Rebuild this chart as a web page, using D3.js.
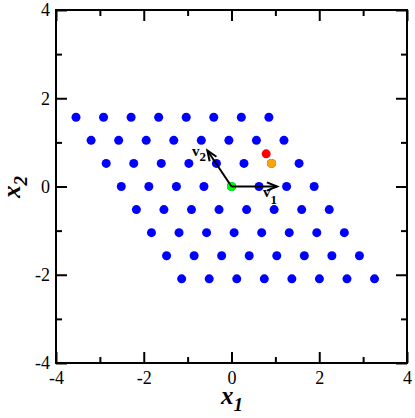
<!DOCTYPE html>
<html><head><meta charset="utf-8">
<script src="https://cdn.jsdelivr.net/npm/d3@7"></script>
<style>body{margin:0;background:#fff}svg{display:block}text{font-family:"Liberation Serif","Times New Roman",serif}</style>
</head><body><svg id="c" width="415" height="418"></svg>
<script>
// lattice rows (y value for each row, x values of points in that row)
const rowY = [1.569, 1.046, 0.523, 0, -0.523, -1.046, -1.569, -2.092];
const rowX = [
  [-3.544, -2.916, -2.288, -1.660, -1.032, -0.404, 0.224, 0.852],
  [-3.200, -2.572, -1.944, -1.316, -0.688, -0.060, 0.568, 1.196],
  [-2.856, -2.228, -1.600, -0.972, -0.344, 0.284, 0.912, 1.540],
  [-2.512, -1.884, -1.256, -0.628, 0.000, 0.628, 1.256, 1.884],
  [-2.168, -1.540, -0.912, -0.284, 0.344, 0.972, 1.600, 2.228],
  [-1.824, -1.196, -0.568, 0.060, 0.688, 1.316, 1.944, 2.572],
  [-1.480, -0.852, -0.224, 0.404, 1.032, 1.660, 2.288, 2.916],
  [-1.136, -0.508, 0.120, 0.748, 1.376, 2.004, 2.632, 3.260]
];
const special = [
  {x: 0, y: 0, color: "#00ff00"},
  {x: 0.79, y: 0.74, color: "#ff0000"},
  {x: 0.912, y: 0.523, color: "#ffa500"}
];
const vectors = [
  {name: "1", x: 1.04, y: 0},
  {name: "2", x: -0.55, y: 0.816}
];
const majorTicks = [-4, -2, 0, 2, 4];
const minorTicks = [-3, -1, 1, 3];

const svg = d3.select("#c");
const L = 56, R = 407, T = 10, B = 363;
const x = d3.scaleLinear().domain([-4, 4]).range([L, R]);
const y = d3.scaleLinear().domain([-4, 4]).range([B, T]);
const fmt = d => String(d);

const pts = [];
rowY.forEach((yy, i) => rowX[i].forEach(xx => pts.push({x: xx, y: yy})));

svg.append("g").selectAll("circle").data(pts).join("circle")
  .attr("cx", d => x(d.x)).attr("cy", d => y(d.y)).attr("r", 4.5).attr("fill", "#0000ff");
svg.append("g").selectAll("circle").data(special).join("circle")
  .attr("cx", d => x(d.x)).attr("cy", d => y(d.y)).attr("r", 4.5).attr("fill", d => d.color);

// arrows
const ag = svg.append("g");
vectors.forEach(v => {
  const x0 = x(0), y0 = y(0), x1 = x(v.x), y1 = y(v.y);
  ag.append("line").attr("x1", x0).attr("y1", y0).attr("x2", x1).attr("y2", y1)
    .attr("stroke", "#000").attr("stroke-width", 2);
  const ang = Math.atan2(y1 - y0, x1 - x0);
  const len = 11, w = 0.38;
  const p = [[x1 - len * Math.cos(ang - w), y1 - len * Math.sin(ang - w)], [x1, y1],
             [x1 - len * Math.cos(ang + w), y1 - len * Math.sin(ang + w)]];
  ag.append("path").attr("d", d3.line()(p)).attr("fill", "none")
    .attr("stroke", "#000").attr("stroke-width", 2);
});
// vector labels
const lab1 = svg.append("text").attr("x", 263).attr("y", 197).attr("font-size", 15).attr("font-weight", "bold");
lab1.append("tspan").text("v");
lab1.append("tspan").attr("dy", 7).attr("font-size", 13).text("1");
const lab2 = svg.append("text").attr("x", 192).attr("y", 156).attr("font-size", 15).attr("font-weight", "bold");
lab2.append("tspan").text("v");
lab2.append("tspan").attr("dy", 5).attr("font-size", 13).text("2");

// axes
function styleAxis(g) {
  g.select(".domain").remove();
  g.selectAll("line").attr("stroke", "#000").attr("stroke-width", 2);
  g.selectAll("text").attr("font-size", 18).attr("fill", "#000")
    .style("font-family", "'Liberation Serif','Times New Roman',serif");
}
svg.append("g").attr("transform", `translate(0,${B})`)
  .call(d3.axisBottom(x).tickValues(majorTicks).tickSize(-11).tickPadding(8).tickFormat(fmt)).call(styleAxis);
svg.append("g").attr("transform", `translate(0,${B})`)
  .call(d3.axisBottom(x).tickValues(minorTicks).tickSize(-6).tickFormat("")).call(styleAxis);
svg.append("g").attr("transform", `translate(0,${T})`)
  .call(d3.axisTop(x).tickValues(majorTicks).tickSize(-11).tickFormat("")).call(styleAxis);
svg.append("g").attr("transform", `translate(0,${T})`)
  .call(d3.axisTop(x).tickValues(minorTicks).tickSize(-6).tickFormat("")).call(styleAxis);
svg.append("g").attr("transform", `translate(${L},0)`)
  .call(d3.axisLeft(y).tickValues(majorTicks).tickSize(-11).tickPadding(6).tickFormat(fmt)).call(styleAxis);
svg.append("g").attr("transform", `translate(${L},0)`)
  .call(d3.axisLeft(y).tickValues(minorTicks).tickSize(-6).tickFormat("")).call(styleAxis);
svg.append("g").attr("transform", `translate(${R},0)`)
  .call(d3.axisRight(y).tickValues(majorTicks).tickSize(-11).tickFormat("")).call(styleAxis);
svg.append("g").attr("transform", `translate(${R},0)`)
  .call(d3.axisRight(y).tickValues(minorTicks).tickSize(-6).tickFormat("")).call(styleAxis);

svg.append("rect").attr("x", L).attr("y", T).attr("width", R - L).attr("height", B - T)
  .attr("fill", "none").attr("stroke", "#000").attr("stroke-width", 2);

// axis titles
const xt = svg.append("text").attr("x", 221).attr("y", 404).attr("font-size", 25)
  .attr("font-weight", "bold").attr("font-style", "italic");
xt.append("tspan").text("x");
xt.append("tspan").attr("dy", 7).attr("font-size", 19).text("1");
const yt = svg.append("text").attr("transform", "translate(20,198) rotate(-90)").attr("font-size", 25)
  .attr("font-weight", "bold").attr("font-style", "italic");
yt.append("tspan").text("x");
yt.append("tspan").attr("dy", 7).attr("font-size", 19).text("2");
</script></body></html>
